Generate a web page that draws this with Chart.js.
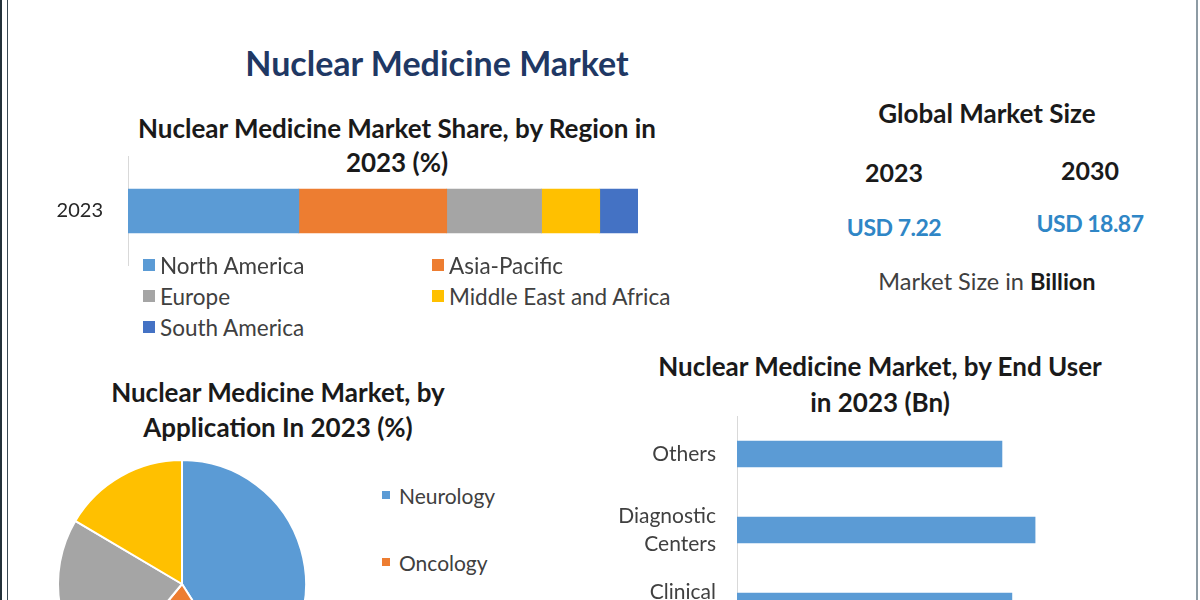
<!DOCTYPE html>
<html lang="en">
<head>
<meta charset="UTF-8">
<title>Nuclear Medicine Market</title>
<script src="https://cdn.jsdelivr.net/npm/chart.js"></script>
<style>
  html, body { margin: 0; padding: 0; }
  body {
    width: 1200px; height: 600px; overflow: hidden; position: relative;
    background: #fff; font-family: Lato, "Liberation Sans", sans-serif; color: #404040;
  }
  .abs { position: absolute; }
  .txt { position: absolute; text-align: center; white-space: nowrap; }
  .bold { font-weight: 700; color: #1a1a1a; }
  .edge-l1 { left: 0; top: 0; width: 2px; height: 600px; background: #24313a; }
  .edge-l2 { left: 7px; top: 0; width: 1px; height: 600px; background: #3a4a55; }
  .edge-r { left: 1196px; top: 0; width: 2px; height: 600px; background: #8d9ba4; }
  .usd { color: #2f86c6; font-weight: 700; letter-spacing: -0.5px; }
  .leg { position: absolute; display: flex; align-items: center; color: #404040; white-space: nowrap; }
  .leg span.box { display: inline-block; }
</style>
</head>
<body>
  <div class="abs edge-l1"></div>
  <div class="abs edge-l2"></div>
  <div class="abs edge-r"></div>

  <div class="txt" style="left:237px; width:400px; top:43px; font-size:34px; line-height:40px; font-weight:700; color:#1f3864;">Nuclear Medicine Market</div>

  <div class="txt bold" style="left:97px; width:600px; top:111px; font-size:26px; line-height:34px;">Nuclear Medicine Market Share, by Region in<br>2023 (%)</div>
  <canvas id="regionChart" class="abs" width="598" height="110" style="left:40px; top:156px;"></canvas>
  <div id="regionLegend"></div>

  <!-- market size panel -->
  <div class="txt bold" style="left:837px; width:300px; top:98px; font-size:26px; line-height:30px;">Global Market Size</div>
  <div id="sizeYears"></div>
  <div class="txt" style="left:837px; width:300px; top:266px; font-size:23.5px; line-height:30px; color:#404040;">Market Size in <b style="color:#1a1a1a">Billion</b></div>

  <div class="txt bold" style="left:78px; width:400px; top:375px; font-size:26px; line-height:35px;">Nuclear Medicine Market, by<br>Application In 2023 (%)</div>
  <canvas id="applicationChart" class="abs" width="250" height="250" style="left:57px; top:459px;"></canvas>
  <div id="applicationLegend"></div>

  <div class="txt bold" style="left:630px; width:500px; top:348px; font-size:26px; line-height:36px;">Nuclear Medicine Market, by End User<br>in 2023 (Bn)</div>
  <canvas id="endUserChart" class="abs" width="561" height="228" style="left:590px; top:416px;"></canvas>

<script>
  // region share, 2023 (%)
  const regionYear = ['2023'];
  const regionLabels = ['North America', 'Asia-Pacific', 'Europe', 'Middle East and Africa', 'South America'];
  const regionShare = [33.5, 29.0, 18.6, 11.4, 7.5];
  const regionColors = ['#5b9bd5', '#ed7d31', '#a5a5a5', '#ffc000', '#4472c4'];

  // application share, 2023 (%)
  const applicationLabels = ['Neurology', 'Oncology', 'Cardiology', 'Others'];
  const applicationShare = [41, 20, 22.5, 16.5];
  const applicationColors = ['#5b9bd5', '#ed7d31', '#a5a5a5', '#ffc000'];

  // end user, 2023 (Bn)
  const endUserLabels = [['Others'], ['Diagnostic', 'Centers'], ['Clinical', 'Laboratories']];
  const endUserValues = [1.60, 1.80, 1.66];

  // global market size (USD Bn)
  const marketYears = ['2023', '2030'];
  const marketSize = [7.22, 18.87];

  const FONT = 'Lato';

  // market size panel text
  const sizeBox = document.getElementById('sizeYears');
  const yearCenters = [894, 1090];
  const yearTops = [157, 155];
  const usdTops = [212, 208];
  marketYears.forEach((yr, i) => {
    sizeBox.insertAdjacentHTML('beforeend',
      `<div class="txt bold" style="left:${yearCenters[i] - 70}px; width:140px; top:${yearTops[i]}px; font-size:25px; line-height:30px;">${yr}</div>` +
      `<div class="txt usd" style="left:${yearCenters[i] - 70}px; width:140px; top:${usdTops[i]}px; font-size:23px; line-height:30px;">USD ${marketSize[i].toFixed(2)}</div>`);
  });

  // region legend, two columns
  const regLeg = document.getElementById('regionLegend');
  const colX = [143, 432];
  const rowY = [265, 296, 327];
  regionLabels.forEach((name, i) => {
    const c = i % 2, r = Math.floor(i / 2);
    regLeg.insertAdjacentHTML('beforeend',
      `<div class="leg" style="left:${colX[c]}px; top:${rowY[r] - 15}px; height:30px; font-size:22.5px;">` +
      `<span class="box" style="width:12px; height:12px; background:${regionColors[i]}; margin-right:5px;"></span>${name}</div>`);
  });

  // application legend, one column
  const appLeg = document.getElementById('applicationLegend');
  applicationLabels.forEach((name, i) => {
    appLeg.insertAdjacentHTML('beforeend',
      `<div class="leg" style="left:382px; top:${495 + i * 67 - 15}px; height:30px; font-size:21px;">` +
      `<span class="box" style="width:8px; height:8px; background:${applicationColors[i]}; margin-right:9px;"></span>${name}</div>`);
  });

  new Chart(document.getElementById('regionChart'), {
    type: 'bar',
    data: {
      labels: regionYear,
      datasets: regionLabels.map((name, i) => ({
        label: name,
        data: [regionShare[i]],
        backgroundColor: regionColors[i],
        barThickness: 44
      }))
    },
    options: {
      indexAxis: 'y',
      responsive: false,
      animation: false,
      plugins: { legend: { display: false }, tooltip: { enabled: false } },
      scales: {
        x: { stacked: true, display: false, min: 0, max: 100 },
        y: {
          stacked: true,
          grid: { display: false, drawTicks: false },
          border: { display: true, color: '#d9d9d9', width: 1 },
          ticks: { color: '#262626', font: { family: FONT, size: 20 }, padding: 25 },
          afterFit(scale) { scale.width = 88; scale.paddingTop = 0; scale.paddingBottom = 0; }
        }
      }
    }
  });

  new Chart(document.getElementById('applicationChart'), {
    type: 'pie',
    data: {
      labels: applicationLabels,
      datasets: [{
        data: applicationShare,
        backgroundColor: applicationColors,
        borderColor: '#ffffff',
        borderWidth: 2
      }]
    },
    options: {
      responsive: false,
      animation: false,
      plugins: { legend: { display: false }, tooltip: { enabled: false } }
    }
  });

  new Chart(document.getElementById('endUserChart'), {
    type: 'bar',
    data: {
      labels: endUserLabels,
      datasets: [{
        data: endUserValues,
        backgroundColor: '#5b9bd5',
        barThickness: 26
      }]
    },
    options: {
      indexAxis: 'y',
      responsive: false,
      animation: false,
      plugins: { legend: { display: false }, tooltip: { enabled: false } },
      scales: {
        x: { display: false, min: 0, max: 2.5 },
        y: {
          grid: { display: false, drawTicks: false },
          border: { display: true, color: '#d9d9d9', width: 1 },
          ticks: { color: '#404040', font: { family: FONT, size: 21, lineHeight: 1.35 }, padding: 21 },
          afterFit(scale) { scale.width = 147; scale.paddingTop = 0; scale.paddingBottom = 0; }
        }
      }
    }
  });
</script>
</body>
</html>
